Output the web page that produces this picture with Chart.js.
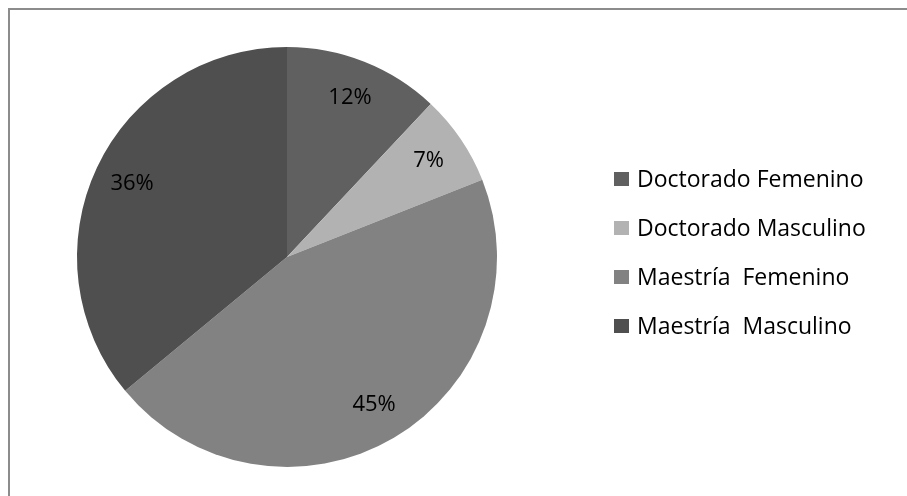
<!DOCTYPE html>
<html>
<head>
<meta charset="utf-8">
<script src="https://cdn.jsdelivr.net/npm/chart.js@4.4.0/dist/chart.umd.min.js"></script>
<style>
  html, body { margin: 0; padding: 0; background: #ffffff; }
  #wrap { position: relative; width: 907px; height: 496px; overflow: hidden; }
  #frame { position: absolute; left: 8px; top: 8px; width: 920px; height: 520px;
           border-top: 2px solid #8c8c8c; border-left: 2px solid #8c8c8c; box-sizing: border-box; }
  #c { position: absolute; left: 0; top: 0; }
</style>
</head>
<body>
<div id="wrap">
  <div id="frame"></div>
  <canvas id="c" width="907" height="496"></canvas>
</div>
<script>
const categories = ["Doctorado Femenino", "Doctorado Masculino", "Maestría  Femenino", "Maestría  Masculino"];
const values = [12, 7, 45, 36];
const colors = ["#606060", "#b2b2b2", "#828282", "#4f4f4f"];

const FONT = '"Open Sans", "DejaVu Sans", sans-serif';

const pctLabels = {
  id: 'pctLabels',
  afterDatasetsDraw(chart) {
    const ctx = chart.ctx;
    const meta = chart.getDatasetMeta(0);
    const ds = chart.data.datasets[0].data;
    const total = ds.reduce((a, b) => a + b, 0);
    ctx.save();
    ctx.font = '22px ' + FONT;
    ctx.fillStyle = '#000000';
    ctx.textAlign = 'center';
    ctx.textBaseline = 'middle';
    meta.data.forEach((arc, i) => {
      const p = arc.getProps(['x', 'y', 'startAngle', 'endAngle', 'outerRadius'], true);
      const mid = (p.startAngle + p.endAngle) / 2;
      const r = p.outerRadius * 0.815;
      const x = p.x + Math.cos(mid) * r;
      const y = p.y + Math.sin(mid) * r;
      ctx.fillText(Math.round(ds[i] / total * 100) + '%', x, y);
    });
    ctx.restore();
  }
};

const sideLegend = {
  id: 'sideLegend',
  afterDraw(chart) {
    const ctx = chart.ctx;
    const labels = chart.data.labels;
    const bg = chart.data.datasets[0].backgroundColor;
    const x0 = 614, y0 = 179, step = 49;
    ctx.save();
    ctx.font = '23px ' + FONT;
    ctx.textBaseline = 'middle';
    ctx.textAlign = 'left';
    labels.forEach((lab, i) => {
      const cy = y0 + i * step;
      ctx.fillStyle = bg[i];
      ctx.fillRect(x0, cy - 7, 15, 14);
      ctx.fillStyle = '#000000';
      ctx.fillText(lab, x0 + 23, cy + 1);
    });
    ctx.restore();
  }
};

new Chart(document.getElementById('c'), {
  type: 'pie',
  data: {
    labels: categories,
    datasets: [{
      data: values,
      backgroundColor: colors,
      borderWidth: 0
    }]
  },
  options: {
    responsive: false,
    animation: false,
    layout: { padding: { left: 77, top: 47, right: 410, bottom: 29 } },
    plugins: {
      legend: { display: false },
      tooltip: { enabled: false }
    }
  },
  plugins: [pctLabels, sideLegend]
});
</script>
</body>
</html>
